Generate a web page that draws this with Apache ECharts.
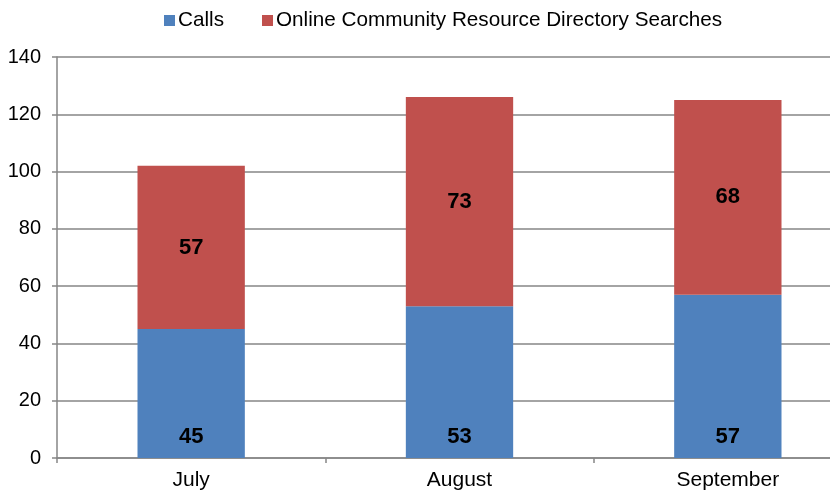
<!DOCTYPE html>
<html>
<head>
<meta charset="utf-8">
<script src="https://cdn.jsdelivr.net/npm/echarts@6/dist/echarts.min.js"></script>
<style>
  html, body { margin: 0; padding: 0; background: #fff; }
  #chart { width: 830px; height: 497px; }
</style>
</head>
<body>
<div id="chart"></div>
<script>
// monthly contacts — stacked bars
var months = ['July', 'August', 'September'];
var calls = [45, 53, 57];
var searches = [57, 73, 68];
var yTicks = { min: 0, max: 140, interval: 20 };

(function () {
  var blue = '#4F81BD';
  var red = '#C0504D';
  var grey = '#868686';
  var font = 'Arial, "Liberation Sans", sans-serif';

  var chart = echarts.init(document.getElementById('chart'), null, { renderer: 'canvas' });
  chart.setOption({
    animation: false,
    textStyle: { fontFamily: font },
    legend: {
      top: 5,
      left: 159,
      itemWidth: 11,
      itemHeight: 11,
      itemGap: 38,
      icon: 'rect',
      textStyle: { color: '#000', fontSize: 20.7, fontFamily: font, padding: [0, 0, 0, -2] },
      data: ['Calls', 'Online Community Resource Directory Searches']
    },
    // the plot runs past the right edge of the picture, like the reference crop
    grid: { left: 57, width: 805, top: 57, bottom: 39, outerBoundsMode: 'none' },
    xAxis: {
      type: 'category',
      data: months,
      axisLine: { lineStyle: { color: grey, width: 1.5 } },
      axisTick: { show: true, length: 5, lineStyle: { color: grey, width: 1.5 } },
      axisLabel: { color: '#000', fontSize: 21, margin: 12, fontFamily: font }
    },
    yAxis: {
      type: 'value',
      min: yTicks.min,
      max: yTicks.max,
      interval: yTicks.interval,
      axisLine: { show: true, lineStyle: { color: grey, width: 1.5 } },
      axisTick: { show: true, length: 5, lineStyle: { color: grey, width: 1.5 } },
      splitLine: { lineStyle: { color: grey, width: 1.5 } },
      axisLabel: { color: '#000', fontSize: 20, margin: 16, fontFamily: font }
    },
    series: [
      {
        name: 'Calls',
        type: 'bar',
        stack: 'total',
        barWidth: '40%',
        itemStyle: { color: blue },
        label: {
          show: true, position: 'insideBottom', distance: 10,
          color: '#000', fontSize: 22, fontWeight: 'bold', fontFamily: font
        },
        data: calls
      },
      {
        name: 'Online Community Resource Directory Searches',
        type: 'bar',
        stack: 'total',
        barWidth: '40%',
        itemStyle: { color: red },
        label: {
          show: true, position: 'inside',
          color: '#000', fontSize: 22, fontWeight: 'bold', fontFamily: font
        },
        data: searches
      }
    ]
  });
})();
</script>
</body>
</html>
